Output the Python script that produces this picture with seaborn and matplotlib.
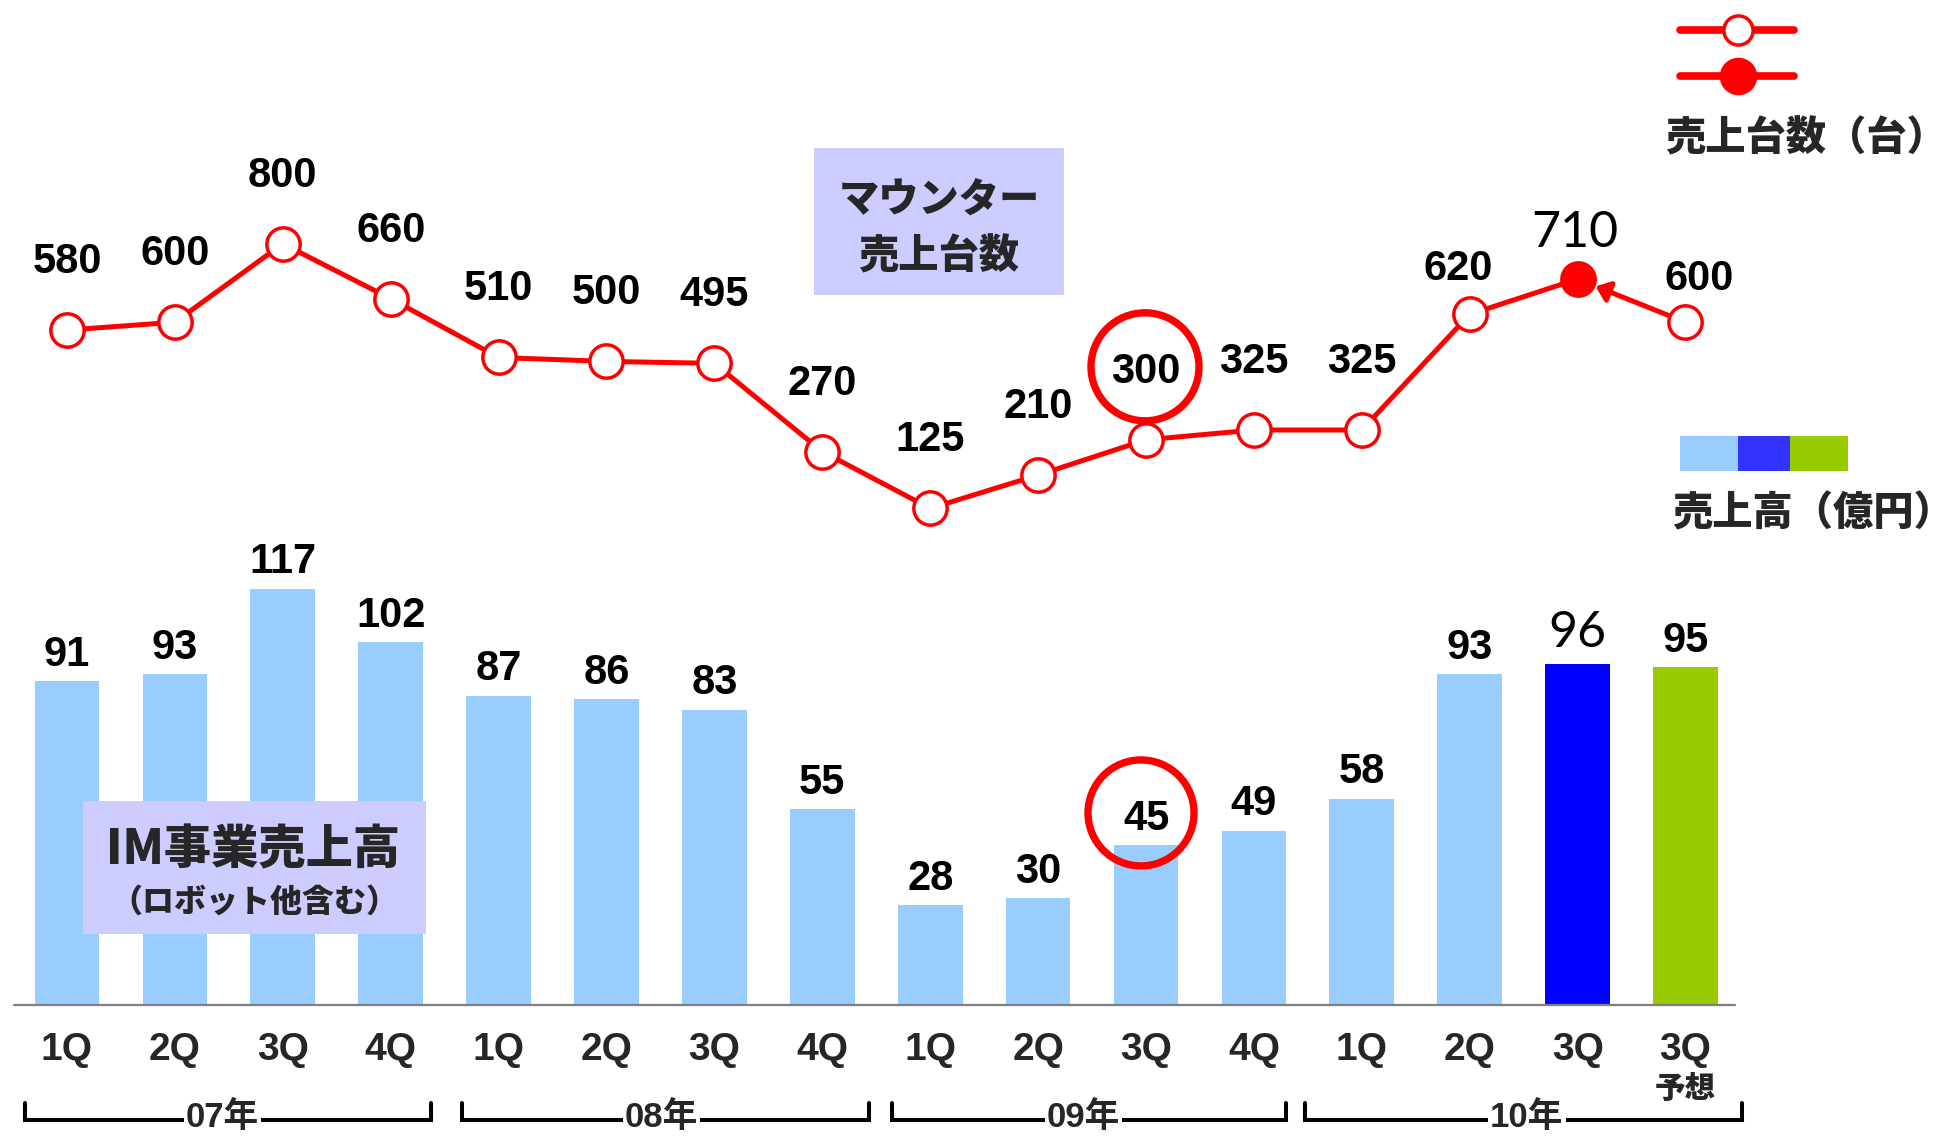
import numpy as np
import pandas as pd
import matplotlib
matplotlib.use('Agg')
import matplotlib.pyplot as plt
import seaborn as sns
from matplotlib.patches import Rectangle, Circle
from matplotlib.lines import Line2D
from matplotlib.transforms import IdentityTransform, blended_transform_factory

# ---------------- data ----------------
periods = ['07-1Q', '07-2Q', '07-3Q', '07-4Q', '08-1Q', '08-2Q', '08-3Q', '08-4Q',
           '09-1Q', '09-2Q', '09-3Q', '09-4Q', '10-1Q', '10-2Q', '10-3Q', '10-3Q予想']
quarter_labels = ['1Q', '2Q', '3Q', '4Q', '1Q', '2Q', '3Q', '4Q',
                  '1Q', '2Q', '3Q', '4Q', '1Q', '2Q', '3Q', '3Q']
forecast_note = '予想'
years = ['07年', '08年', '09年', '10年']
sales = [91, 93, 117, 102, 87, 86, 83, 55, 28, 30, 45, 49, 58, 93, 96, 95]      # 売上高（億円）
units = [580, 600, 800, 660, 510, 500, 495, 270, 125, 210, 300, 325, 325, 620, 710, 600]  # 売上台数（台）
bar_colors = ['#99CCFF'] * 14 + ['#0000FF', '#99CC00']
line_title = ['マウンター', '売上台数']
bar_title = ['IM事業売上高', '（ロボット他含む）']
legend_line_text = '売上台数（台）'
legend_bar_text = '売上高（億円）'

# ---------------- styles ----------------
sns.set_theme(style='white')
NUM = ['Liberation Sans', 'Noto Sans CJK JP', 'DejaVu Sans']
CJK = ['Noto Sans CJK JP', 'DejaVu Sans']
THIN = ['Lato', 'Noto Sans', 'DejaVu Sans']
plt.rcParams['font.family'] = NUM
CJK_W = 'heavy'

W, H = 1955, 1139
fig = plt.figure(figsize=(W / 100, H / 100), dpi=100)
fig.patch.set_facecolor('white')
ax = fig.add_axes([0, 134 / H, 1, 1005 / H])
ax.set_facecolor('none')

df = pd.DataFrame({'pos': np.arange(len(periods)), 'period': periods,
                   'sales': sales, 'units': units})

XLIM = (-67 / 107.9, (W - 67) / 107.9)

# bars
sns.barplot(data=df, x='pos', y='sales', native_scale=True, width=0.6,
            color='#99CCFF', saturation=1, errorbar=None, ax=ax)
for p, c in zip(ax.patches, bar_colors):
    p.set_facecolor(c)
    p.set_edgecolor('none')

# line (twin axis)
ax2 = ax.twinx()
ax2.set_facecolor('none')
line_df = df.iloc[:15]
sns.lineplot(data=line_df, x='pos', y='units', color='red', lw=3.6, ax=ax2, zorder=3)
open_df = df.drop(index=14)
sns.scatterplot(data=open_df, x='pos', y='units', s=576, color='white',
                edgecolor='red', linewidth=2.5, ax=ax2, zorder=5)
sns.scatterplot(data=df.iloc[[14]], x='pos', y='units', s=576, color='red',
                edgecolor='red', linewidth=2.5, ax=ax2, zorder=5)
ax2.annotate('', xy=(14, units[14]), xytext=(15, units[15]),
             arrowprops=dict(arrowstyle='-|>,head_length=0.4,head_width=0.32',
                             color='red', lw=3.6, shrinkA=0, shrinkB=14,
                             mutation_scale=20), zorder=2)

# value labels - line
l_dx = [0] * 13 + [-8.6, -2, 10]
l_dy = [49] * 13 + [33, 33, 31]
for i, v in enumerate(units):
    thin = (i == 14)
    ax2.annotate(str(v), xy=(i, v), xytext=(l_dx[i], l_dy[i]), textcoords='offset points',
                 ha='center', va='center', fontsize=36 if thin else 30,
                 fontweight='normal' if thin else 'bold', family=THIN if thin else NUM,
                 color='black', zorder=6)

# value labels - bars
for i, v in enumerate(sales):
    thin = (i == 14)
    ax.annotate(str(v), xy=(i, v), xytext=(0, 22 if thin else 19), textcoords='offset points',
                ha='center', va='center', fontsize=36 if thin else 30,
                fontweight='normal' if thin else 'bold', family=THIN if thin else NUM,
                color='black')

# axes cosmetics
for a in (ax, ax2):
    a.set_yticks([])
    a.set_ylabel('')
    a.set_xlabel('')
    for s in a.spines.values():
        s.set_visible(False)
ax.axhline(0, xmin=14 / W, xmax=1735 / W, color='#7F7F7F', lw=1.6, clip_on=False, zorder=4)

ax.set_xticks(df['pos'], quarter_labels)
ax.tick_params(axis='x', length=0, pad=19.5, labelsize=28)
for lab in ax.get_xticklabels():
    lab.set_fontweight('bold')

# year brackets
trans = blended_transform_factory(ax.transData, fig.transFigure)
yl = 1 - 1120 / H
yt = 1 - 1103 / H
yl_text = 1 - 1117 / H
br_left = [-0.385, 3.66, 7.65, 11.47]
br_right = [3.37, 7.43, 11.30, 15.52]
yr_x = [1.44, 5.51, 9.42, 13.53]
for x0, x1, xm, yr in zip(br_left, br_right, yr_x, years):
    ax.plot([x0, x0, x1, x1], [yt, yl, yl, yt], transform=trans, color='black',
            lw=2.9, clip_on=False, solid_joinstyle='miter')
    ax.text(xm, yl_text, yr, transform=trans, ha='center', va='center',
            fontsize=25, fontweight='bold', family=NUM,
            bbox=dict(fc='white', ec='none', pad=1.5))
ax.text(15, 1 - 1088 / H, forecast_note, transform=trans, ha='center', va='center',
        fontsize=22, fontweight=CJK_W, family=CJK)

ax.set_xlim(*XLIM)
ax2.set_xlim(*XLIM)
ax.set_ylim(0, 1005 / 3.557)
ax2.set_ylim(-447.6 / 0.392, (1005 - 447.6) / 0.392)


def ft(x, y, s, **kw):
    fig.text(x / W, 1 - y / H, s, ha='center', va='center', **kw)


def frect(x, y, w, h, c):
    fig.add_artist(Rectangle((x / W, 1 - (y + h) / H), w / W, h / H,
                             transform=fig.transFigure, fc=c, ec='none', zorder=1))


# title boxes
frect(814, 148, 250, 147, '#CCCCFF')
ft(939, 200, line_title[0], fontsize=29, fontweight=CJK_W, family=CJK)
ft(939, 256, line_title[1], fontsize=29, fontweight=CJK_W, family=CJK)
frect(83, 801, 343, 133, '#CCCCFF')
ft(253, 850, bar_title[0], fontsize=34, fontweight=CJK_W, family=CJK)
ft(254, 902, bar_title[1], fontsize=23, fontweight=CJK_W, family=CJK)

# legend
fig.add_artist(Line2D([1680 / W, 1738 / W, 1794 / W], [1 - 30 / H] * 3, transform=fig.transFigure,
                      color='red', lw=5.5, marker='o', markevery=[1], ms=21,
                      mfc='white', mec='red', mew=2.5))
fig.add_artist(Line2D([1680 / W, 1738 / W, 1794 / W], [1 - 76 / H] * 3, transform=fig.transFigure,
                      color='red', lw=5.5, marker='o', markevery=[1], ms=27,
                      mfc='red', mec='red', mew=0))
ft(1806, 138, legend_line_text, fontsize=29, fontweight=CJK_W, family=CJK)
frect(1680, 436, 58, 35, '#99CCFF')
frect(1738, 436, 52, 35, '#3333FF')
frect(1790, 436, 58, 35, '#99CC00')
ft(1813, 513, legend_bar_text, fontsize=29, fontweight=CJK_W, family=CJK)

# highlight circles
cx, cy = ax2.transData.transform((10, units[10]))
fig.add_artist(Circle((cx - 1, cy + 73), 54, transform=IdentityTransform(), fill=False,
                      ec='red', lw=5.3, zorder=7))
cx, cy = ax.transData.transform((10, sales[10]))
fig.add_artist(Circle((cx - 5, cy + 32), 53, transform=IdentityTransform(), fill=False,
                      ec='red', lw=5.3, zorder=7))

fig.savefig('out.png', dpi=100)
